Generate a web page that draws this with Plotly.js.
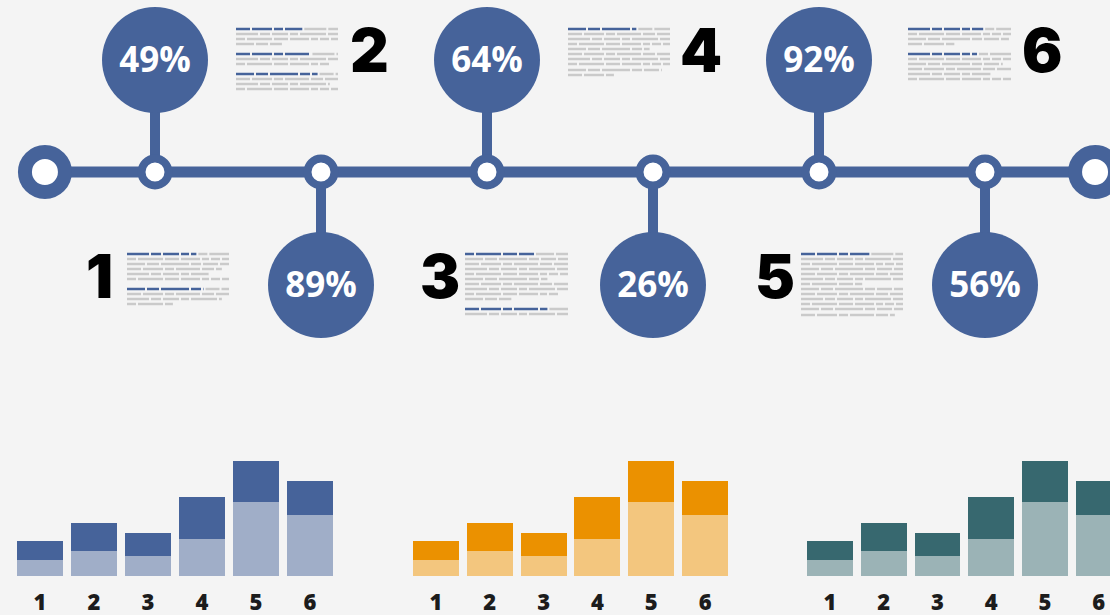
<!DOCTYPE html>
<html>
<head>
<meta charset="utf-8">
<script src="https://cdn.plot.ly/plotly-3.0.1.min.js"></script>
<style>html,body{margin:0;padding:0;background:#f4f4f4;}#chart{width:1110px;height:615px;}</style>
</head>
<body>
<div id="chart"></div>
<script>
// ---- data ----
var steps = ['1', '2', '3', '4', '5', '6'];
var percentages = [49, 89, 64, 26, 92, 56];
var barLight = [16, 25, 20, 37, 74, 61];
var barDark = [19, 28, 23, 42, 41, 34];

// ---- styling ----
var W = 1110, H = 615;
var BLUE = '#46639a';
var panelColors = [
  {light: '#a0aec8', dark: '#46639a'},
  {light: '#f3c67e', dark: '#eb9100'},
  {light: '#9bb3b6', dark: '#37686f'}
];
var lineY = 172, topY = 60, botY = 285;
var stepIdx = steps.map(function(s, i){ return i + 1; });
var bubbleY = stepIdx.map(function(s, i){ return i % 2 === 0 ? topY : botY; });

var traces = [];
// main timeline line
traces.push({x: [0.337, 6.663], y: [lineY, lineY], mode: 'lines', line: {color: BLUE, width: 11},
  hoverinfo: 'skip', showlegend: false, xaxis: 'x', yaxis: 'y'});
// stems
var sx = [], sy = [];
stepIdx.forEach(function(s, i){
  sx.push(s, s, null);
  sy.push(bubbleY[i], lineY, null);
});
traces.push({x: sx, y: sy, mode: 'lines', line: {color: BLUE, width: 10}, hoverinfo: 'skip', showlegend: false, xaxis: 'x', yaxis: 'y'});
// end circles
traces.push({x: [0.337, 6.663], y: [lineY, lineY], mode: 'markers',
  marker: {size: 40, color: '#ffffff', line: {color: BLUE, width: 14}}, hoverinfo: 'skip', showlegend: false, xaxis: 'x', yaxis: 'y'});
// node circles
traces.push({x: stepIdx, y: stepIdx.map(function(){ return lineY; }), mode: 'markers',
  marker: {size: 27, color: '#ffffff', line: {color: BLUE, width: 8}}, hoverinfo: 'skip', showlegend: false, xaxis: 'x', yaxis: 'y'});
// percentage bubbles
traces.push({x: stepIdx, y: bubbleY, mode: 'markers',
  marker: {size: 106, color: BLUE, line: {width: 0}}, hoverinfo: 'skip', showlegend: false, xaxis: 'x', yaxis: 'y'});
// percentage labels (nudged to optical centre)
traces.push({x: stepIdx, y: bubbleY.map(function(v){ return v + 3; }), mode: 'text',
  text: percentages.map(function(p){ return p + '%'; }), textposition: 'middle center',
  textfont: {family: 'Open Sans', size: 35, color: '#ffffff', weight: 700},
  hoverinfo: 'skip', showlegend: false, xaxis: 'x', yaxis: 'y'});

// bar panels
var panelDomains = [[13 / W, 337 / W], [409 / W, 732 / W], [803 / W, 1]];
var panelRanges = [[-0.5, 5.5], [-0.5, 5.5], [-0.5, 5.21]];
var layout = {
  width: W, height: H,
  margin: {l: 0, r: 0, t: 0, b: 0},
  paper_bgcolor: '#f4f4f4', plot_bgcolor: 'rgba(0,0,0,0)',
  showlegend: false, barmode: 'stack', bargap: 0.148,
  xaxis: {domain: [0, 1], range: [0.0663, 6.753], visible: false, fixedrange: true},
  yaxis: {domain: [0, 1], range: [615, 0], visible: false, fixedrange: true},
  shapes: [], annotations: []
};
var yDom = [(H - 576) / H, (H - 446) / H];
panelColors.forEach(function(c, p){
  var xa = 'x' + (p + 2), ya = 'y' + (p + 2);
  traces.push({type: 'bar', x: steps, y: barLight, marker: {color: c.light}, xaxis: xa, yaxis: ya, hoverinfo: 'skip'});
  traces.push({type: 'bar', x: steps, y: barDark, marker: {color: c.dark}, xaxis: xa, yaxis: ya, hoverinfo: 'skip'});
  layout['xaxis' + (p + 2)] = {domain: panelDomains[p], range: panelRanges[p], anchor: ya, type: 'category',
    showgrid: false, zeroline: false, showline: false, ticks: '', ticklabelstandoff: 11,
    tickfont: {family: 'Open Sans', size: 22, color: '#1c1c1c', weight: 800}, fixedrange: true};
  layout['yaxis' + (p + 2)] = {domain: yDom, range: [0, 130], anchor: xa, visible: false, fixedrange: true};
});

// big step numbers
var numPos = [[99, 276], [369, 50], [440, 276], [701, 50], [775, 276], [1042, 50]];
steps.forEach(function(s, i){
  layout.annotations.push({xref: 'paper', yref: 'paper', x: numPos[i][0] / W, y: 1 - numPos[i][1] / H,
    text: s, showarrow: false, xanchor: 'center', yanchor: 'middle',
    font: {family: 'Inter', size: 60, color: '#000000', weight: 900}});
});

// placeholder text lines (decorative)
function px(x){ return x / W; }
function py(y){ return 1 - y / H; }
var dashes = ['14px,2px,20px,2px,9px,2px,24px,2px,12px,2px', '22px,2px,10px,2px,16px,2px,8px,2px,26px,2px',
  '9px,2px,25px,2px,14px,2px,19px,2px,7px,2px', '18px,2px,12px,2px,28px,2px,10px,2px,15px,2px'];
// each block: [x0, x1, rows] ; row = [y, endFrac, blueFrac(0 if none)]
var blocks = [
  [236, 338, [[29,1,0.65],[34,1,0],[39,1,0],[44,0.45,0],[54,1,0.73],[59,1,0],[64,0.92,0],[74,1,0.8],[79,1,0],[84,0.92,0],[89,1,0]]],
  [127, 229, [[254,1,0.68],[259,1,0],[264,1,0],[269,0.93,0],[274,0.8,0],[279,1,0],[289,1,0.75],[294,1,0],[299,0.93,0],[304,0.45,0]]],
  [465, 568, [[254,1,0.67],[259,1,0],[264,1,0],[269,1,0],[274,1,0],[279,0.8,0],[284,1,0],[289,1,0],[294,0.92,0],[299,0.45,0],[309,1,0.8],[314,1,0]]],
  [568, 670, [[29,1,0.67],[34,1,0],[39,1,0],[44,1,0],[49,0.8,0],[54,1,0],[59,1,0],[64,1,0],[70,0.92,0],[75,0.45,0]]],
  [801, 903, [[254,1,0.67],[259,1,0],[264,1,0],[269,1,0],[274,1,0],[279,1,0],[284,0.6,0],[289,1,0],[294,1,0],[299,1,0],[304,1,0],[309,1,0],[315,0.92,0]]],
  [908, 1011, [[29,1,0.73],[34,1,0],[39,0.98,0],[44,0.45,0],[54,1,0.67],[59,1,0],[64,0.92,0],[69,1,0],[74,0.8,0],[79,1,0]]]
];
blocks.forEach(function(b, bi){
  var x0 = b[0], x1 = b[1], w = x1 - x0;
  b[2].forEach(function(r, ri){
    var y = r[0], end = x0 + w * r[1];
    var dash = dashes[(bi + ri) % dashes.length];
    if (r[2] > 0) {
      var bEnd = x0 + w * r[2];
      layout.shapes.push({type: 'line', xref: 'paper', yref: 'paper', x0: px(x0), x1: px(bEnd), y0: py(y), y1: py(y),
        line: {color: BLUE, width: 2.5, dash: dash}});
      layout.shapes.push({type: 'line', xref: 'paper', yref: 'paper', x0: px(bEnd + 2), x1: px(end), y0: py(y), y1: py(y),
        line: {color: '#cacaca', width: 2.5, dash: dashes[(bi + ri + 1) % dashes.length]}});
    } else {
      layout.shapes.push({type: 'line', xref: 'paper', yref: 'paper', x0: px(x0), x1: px(end), y0: py(y), y1: py(y),
        line: {color: '#cacaca', width: 2.5, dash: dash}});
    }
  });
});

Plotly.newPlot('chart', traces, layout, {displayModeBar: false, staticPlot: true});
</script>
</body>
</html>
